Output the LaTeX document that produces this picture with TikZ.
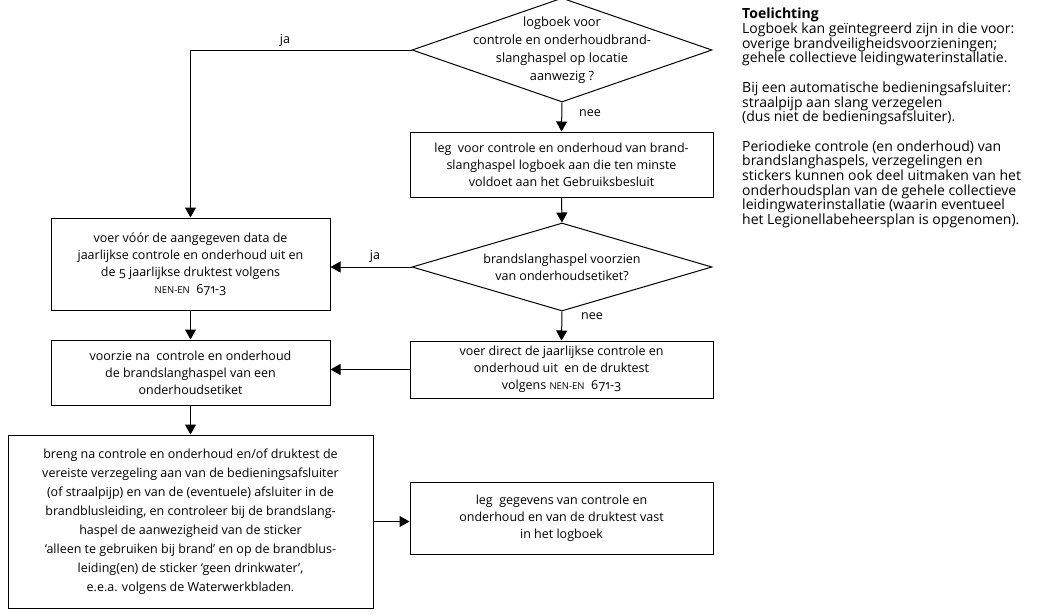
\documentclass[tikz,border=0pt]{standalone}
\usepackage{fontspec}
\setmainfont{Open Sans}[Numbers=OldStyle]
\usetikzlibrary{shapes.geometric,arrows.meta}
\newcommand\boxfont{\fontsize{12.5}{17}\selectfont}
\newcommand\notefont{\fontsize{14}{14.7}\selectfont}
\newcommand\nen{{\fontsize{9.5}{10}\selectfont NEN-EN}}
\begin{document}
\begin{tikzpicture}[x=1pt,y=-1pt,
  box/.style={draw, line width=1pt, align=center, inner sep=0pt, font=\boxfont},
  dia/.style={draw, diamond, inner sep=0pt, line width=1pt},
  arr/.style={-{Triangle[length=10pt,width=11pt]}, line width=1pt},
  lbl/.style={font=\boxfont, inner sep=0pt}]
\useasboundingbox (0,0) rectangle (1038,614);
% diamonds
\node[dia, minimum width=300pt, minimum height=104pt] (d1) at (562,50) {};
\node[lbl, align=center, font=\fontsize{12.8}{18}\selectfont] (t1) at (562,50) {logboek voor\\controle en onderhoudbrand-\\slanghaspel op locatie\\aanwezig ?};
\node[dia, minimum width=300pt, minimum height=88pt] (d2) at (562,267) {};
\node[lbl, align=center] (t2) at (562,267) {brandslanghaspel voorzien\\van onderhoudsetiket?};
% boxes
\node[box, minimum width=303pt, minimum height=65pt] (b2) at (561.5,164.5) {leg\ \ voor controle en onderhoud van brand-\\slanghaspel logboek aan die ten minste\\voldoet aan het Gebruiksbesluit};
\node[box, minimum width=303pt, minimum height=57pt] (b4) at (561.5,369.5) {voer direct de jaarlijkse controle en\\onderhoud uit\ \ en de druktest\\volgens \nen\ \ 671-3};
\node[box, minimum width=279pt, minimum height=92pt] (b1) at (190.5,264) {voer vóór de aangegeven data de\\jaarlijkse controle en onderhoud uit en\\de 5 jaarlijkse druktest volgens\\\nen\ \ 671-3};
\node[box, minimum width=279pt, minimum height=65pt] (b3) at (190.5,372.5) {voorzie na\ \ controle en onderhoud\\de brandslanghaspel van een\\onderhoudsetiket};
\node[box, minimum width=365pt, minimum height=173pt, font=\fontsize{12.5}{19}\selectfont] (b5) at (190.5,521.5) {breng na controle en onderhoud en/of druktest de\\vereiste verzegeling aan van de bedieningsafsluiter\\(of straalpijp) en van de (eventuele) afsluiter in de\\brandblusleiding, en controleer bij de brandslang-\\haspel de aanwezigheid van de sticker\\‘alleen te gebruiken bij brand’ en op de brandblus-\\leiding(en) de sticker ‘geen drinkwater’,\\e.e.a. volgens de Waterwerkbladen.};
\node[box, minimum width=303pt, minimum height=72pt] (b6) at (561.5,518) {leg\ \ gegevens van controle en\\onderhoud en van de druktest vast\\in het logboek};
% connectors
\draw[arr] (d1.west) -| (b1.north);
\draw[arr] (d1.south) -- (b2.north);
\draw[arr] (b2.south) -- (d2.north);
\draw[arr] (d2.west) -- (d2.west -| b1.east);
\draw[arr] (d2.south) -- (b4.north);
\draw[arr] (b4.west) -- (b4.west -| b3.east);
\draw[arr] (b1.south) -- (b3.north);
\draw[arr] (b3.south) -- (b5.north);
\draw[arr] (b5.east) -- (b5.east -| b6.west);
% labels
\node[lbl] (ja1) at (285,40) {ja};
\node[lbl] (nee1) at (590,113) {nee};
\node[lbl] (ja2) at (375,256) {ja};
\node[lbl] (nee2) at (592,316) {nee};
% note
\node[anchor=north west, align=left, inner sep=0pt, font=\notefont] (note) at (742,8) {\textbf{Toelichting}\\Logboek kan geïntegreerd zijn in die voor:\\overige brandveiligheidsvoorzieningen;\\gehele collectieve leidingwaterinstallatie.\\[14.7pt]Bij een automatische bedieningsafsluiter:\\straalpijp aan slang verzegelen\\(dus niet de bedieningsafsluiter).\\[14.7pt]Periodieke controle (en onderhoud) van\\brandslanghaspels, verzegelingen en\\stickers kunnen ook deel uitmaken van het\\onderhoudsplan van de gehele collectieve\\leidingwaterinstallatie (waarin eventueel\\het Legionellabeheersplan is opgenomen).};
\end{tikzpicture}
\end{document}
